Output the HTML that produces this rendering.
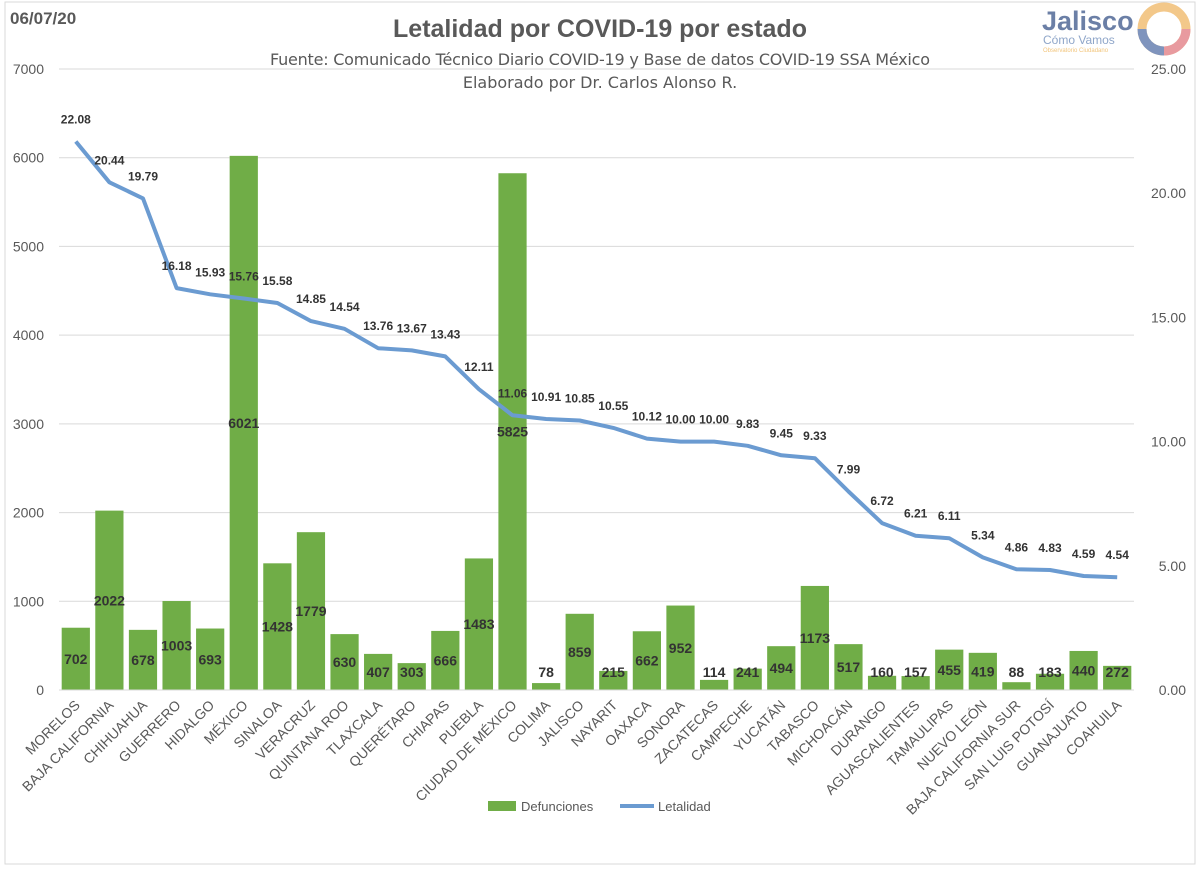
<!DOCTYPE html>
<html><head><meta charset="utf-8"><style>
body{margin:0;background:#fff;font-family:"Liberation Sans",sans-serif}
#wrap{position:relative;width:1200px;height:869px;overflow:hidden}
</style></head><body>
<div id="wrap">
<svg id="chart" width="1200" height="869" xmlns="http://www.w3.org/2000/svg">
<rect x="5" y="2" width="1190" height="862" fill="#fff" stroke="#d9d9d9"/>
<text x="10" y="24" font-size="17" font-weight="bold" fill="#595959">06/07/20</text>
<text x="600" y="37" text-anchor="middle" font-size="25" font-weight="bold" fill="#595959">Letalidad por COVID-19 por estado</text>
<text x="600" y="65" text-anchor="middle" font-size="16" fill="#595959" font-family="DejaVu Sans, sans-serif" textLength="660">Fuente: Comunicado Técnico Diario COVID-19 y Base de datos COVID-19 SSA México</text>
<text x="600" y="88" text-anchor="middle" font-size="16" fill="#595959" font-family="DejaVu Sans, sans-serif">Elaborado por Dr. Carlos Alonso R.</text>
<g>
<text x="1042" y="30" font-size="27" font-weight="bold" fill="#6b7fa6">Jalisco</text>
<text x="1043" y="44" font-size="12" fill="#8fa6c9">Cómo Vamos</text>
<text x="1043" y="52" font-size="6" fill="#f2c57c">Observatorio Ciudadano</text>
<circle cx="1164" cy="29" r="22" fill="none" stroke="#f3c88a" stroke-width="9"/>
<path d="M1164 51 A22 22 0 0 1 1142 29" fill="none" stroke="#7f94bd" stroke-width="9"/>
<path d="M1186 29 A22 22 0 0 1 1164 51" fill="none" stroke="#e89a9f" stroke-width="9"/>
</g>
<g id="grid"></g><g id="bars"></g><g id="line"></g><g id="axes"></g>
<g>
<rect x="488" y="801" width="28" height="10" fill="#70ad47"/>
<text x="521" y="811" font-size="13" fill="#595959">Defunciones</text>
<line x1="620" y1="806" x2="654" y2="806" stroke="#6b9bd1" stroke-width="4"/>
<text x="658" y="811" font-size="13" fill="#595959">Letalidad</text>
</g>
</svg></div>
<script>
const states=["MORELOS","BAJA CALIFORNIA","CHIHUAHUA","GUERRERO","HIDALGO","MÉXICO","SINALOA","VERACRUZ","QUINTANA ROO","TLAXCALA","QUERÉTARO","CHIAPAS","PUEBLA","CIUDAD DE MÉXICO","COLIMA","JALISCO","NAYARIT","OAXACA","SONORA","ZACATECAS","CAMPECHE","YUCATÁN","TABASCO","MICHOACÁN","DURANGO","AGUASCALIENTES","TAMAULIPAS","NUEVO LEÓN","BAJA CALIFORNIA SUR","SAN LUIS POTOSÍ","GUANAJUATO","COAHUILA"];
const deaths=[702,2022,678,1003,693,6021,1428,1779,630,407,303,666,1483,5825,78,859,215,662,952,114,241,494,1173,517,160,157,455,419,88,183,440,272];
const lethality=[22.08,20.44,19.79,16.18,15.93,15.76,15.58,14.85,14.54,13.76,13.67,13.43,12.11,11.06,10.91,10.85,10.55,10.12,10.00,10.00,9.83,9.45,9.33,7.99,6.72,6.21,6.11,5.34,4.86,4.83,4.59,4.54];
const leftTicks=[0,1000,2000,3000,4000,5000,6000,7000];
const rightTicks=[0,5,10,15,20,25];
const NS="http://www.w3.org/2000/svg";
const X0=59,X1=1134,Y0=690,Y1=69;
const step=(X1-X0)/states.length;
const xC=i=>X0+step*(i+0.5);
const yL=v=>Y0-(v/7000)*(Y0-Y1);
const yR=v=>Y0-(v/25)*(Y0-Y1);
function mk(tag,attrs,parent,txt){const e=document.createElementNS(NS,tag);for(const k in attrs)e.setAttribute(k,attrs[k]);if(txt!==undefined)e.textContent=txt;parent.appendChild(e);return e;}
const grid=document.getElementById('grid'),axes=document.getElementById('axes'),bars=document.getElementById('bars'),line=document.getElementById('line');
leftTicks.forEach(t=>{
 const g=mk('line',{x1:X0,x2:X1,y1:yL(t),y2:yL(t),stroke:'#d9d9d9','stroke-width':1},grid);
 
 
 const l=mk('text',{x:44,y:yL(t)+5,'text-anchor':'end','font-size':14,fill:'#595959'},axes,String(t));
 
 
});
rightTicks.forEach(t=>{
 const l=mk('text',{x:1186,y:yR(t)+5,'text-anchor':'end','font-size':14,fill:'#595959'},axes,t.toFixed(2));
 
 
});
const bw=step*0.84;
deaths.forEach((d,i)=>{
 const y=yL(d);
 const r=mk('rect',{x:xC(i)-bw/2,y:y,width:bw,height:Y0-y,fill:'#70ad47'},bars);
 
 
 const ly=Math.min((y+Y0)/2+5,677);
 const t=mk('text',{x:xC(i),y:ly,'text-anchor':'middle','font-size':14,'font-weight':'bold',fill:'#333'},bars,String(d));
 
 
 const lab=mk('text',{x:0,y:0,'text-anchor':'end','font-size':14,fill:'#595959',transform:`translate(${xC(i)+5},${Y0+16}) rotate(-45)`},axes,states[i]);
 
 
});
const ax=mk('line',{x1:X0,x2:X1,y1:Y0,y2:Y0,stroke:'#d9d9d9'},axes);


const pts=lethality.map((v,i)=>xC(i).toFixed(1)+','+yR(v).toFixed(1)).join(' ');
const pl=mk('polyline',{points:pts,fill:'none',stroke:'#6b9bd1','stroke-width':4,'stroke-linejoin':'round'},line);


lethality.forEach((v,i)=>{
 const t=mk('text',{x:xC(i),y:yR(v)-18,'text-anchor':'middle','font-size':12,'font-weight':'bold',fill:'#333'},line,v.toFixed(2));
 
 
});
</script>
</body></html>
